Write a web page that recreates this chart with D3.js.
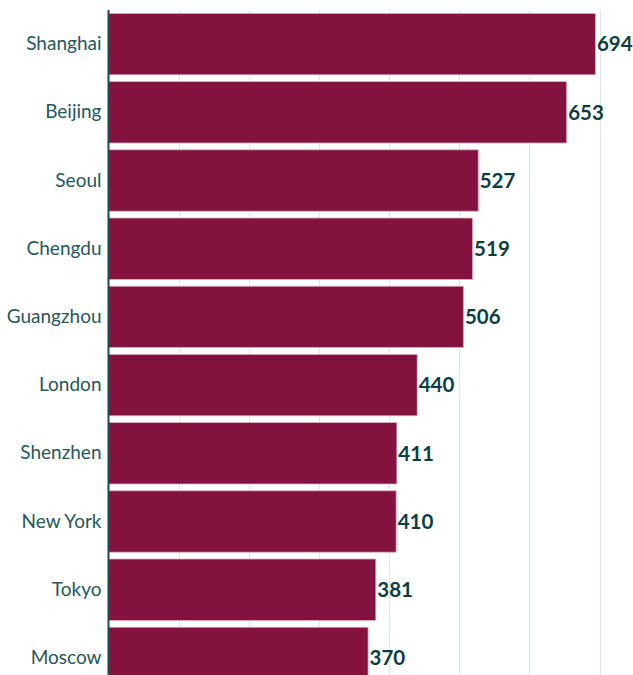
<!DOCTYPE html>
<html>
<head>
<meta charset="utf-8">
<script src="https://cdn.jsdelivr.net/npm/d3@7"></script>
<style>
  html, body { margin: 0; padding: 0; background: #ffffff; overflow: hidden; }
  svg { display: block; }
</style>
</head>
<body>
<svg id="chart" width="633" height="675"></svg>
<script>
// City values, largest first
const cities = ["Shanghai", "Beijing", "Seoul", "Chengdu", "Guangzhou", "London", "Shenzhen", "New York", "Tokyo", "Moscow"];
const values = [694, 653, 527, 519, 506, 440, 411, 410, 381, 370];
const gridTicks = [100, 200, 300, 400, 500, 600, 700];

const svg = d3.select("#chart");
const left = 108.5;

const x = d3.scaleLinear().domain([0, 700]).range([left, 599.6]);
const y = d3.scaleBand().domain(cities).range([10, 692]).paddingInner(0.1).paddingOuter(0.05);

// vertical gridlines
svg.append("g")
  .selectAll("line")
  .data(gridTicks)
  .join("line")
  .attr("x1", d => Math.round(x(d)) + 0.5)
  .attr("x2", d => Math.round(x(d)) + 0.5)
  .attr("y1", 10)
  .attr("y2", 675)
  .attr("stroke", "#dde6e8")
  .attr("stroke-width", 1);

// bars
svg.append("g")
  .selectAll("rect")
  .data(cities)
  .join("rect")
  .attr("x", x(0))
  .attr("y", d => y(d))
  .attr("width", (d, i) => x(values[i]) - x(0))
  .attr("height", y.bandwidth())
  .attr("fill", "#83123f")
  .attr("stroke", "#d7b0c0")
  .attr("stroke-width", 0.8);

// value labels
svg.append("g")
  .selectAll("text")
  .data(cities)
  .join("text")
  .attr("x", (d, i) => x(values[i]) + 1.5)
  .attr("y", d => y(d) + y.bandwidth() / 2)
  .attr("dy", "0.36em")
  .attr("font-family", "Lato, sans-serif")
  .attr("font-weight", 700)
  .attr("font-size", 20.5)
  .attr("fill", "#0c3d40")
  .text((d, i) => values[i]);

// category axis
const yAxis = d3.axisLeft(y).tickSize(0).tickPadding(7);
const axisG = svg.append("g")
  .attr("transform", `translate(${left},0)`)
  .call(yAxis);
axisG.select(".domain").remove();
axisG.selectAll("text")
  .attr("font-family", "Lato, sans-serif")
  .attr("font-size", 19)
  .attr("fill", "#25575c");

svg.append("line")
  .attr("x1", left)
  .attr("x2", left)
  .attr("y1", 10)
  .attr("y2", 675)
  .attr("stroke", "#1c4b4f")
  .attr("stroke-width", 2);
</script>
</body>
</html>
